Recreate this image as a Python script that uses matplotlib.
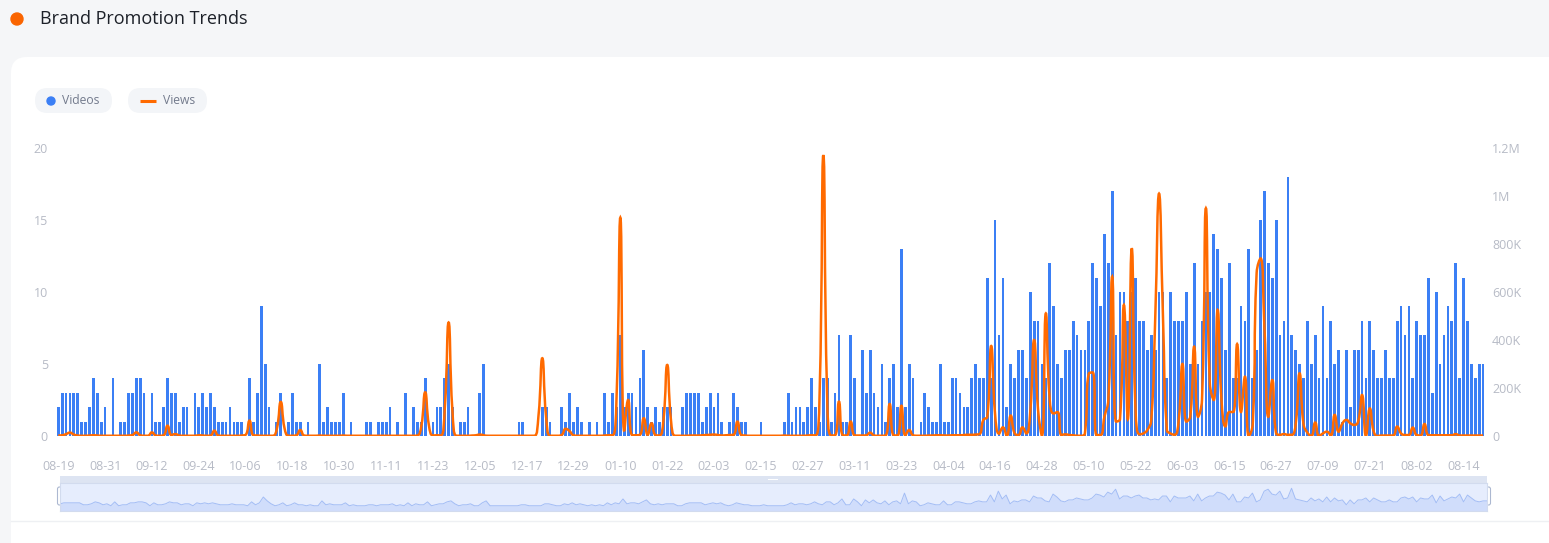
import matplotlib
matplotlib.use('Agg')
import matplotlib.pyplot as plt
from matplotlib.patches import FancyBboxPatch, Circle, Rectangle, PathPatch
from matplotlib.path import Path
import numpy as np
import pandas as pd

plt.rcParams['font.family'] = ['Open Sans', 'DejaVu Sans']

# daily data, 2024-08-19 .. 2025-08-19
start_date = '2024-08-19'
n_days = 366
dates = pd.date_range(start_date, periods=n_days, freq='D')
date_labels = list(dates.strftime('%m-%d'))

videos = [
    2, 3, 3, 3, 3, 3, 1, 1, 2, 4,
    3, 1, 2, 0, 4, 0, 1, 1, 3, 3,
    4, 4, 3, 0, 3, 1, 1, 2, 4, 3,
    3, 1, 2, 2, 0, 3, 2, 3, 2, 3,
    2, 1, 1, 1, 2, 1, 1, 1, 0, 4,
    1, 3, 9, 5, 2, 0, 1, 3, 0, 1,
    3, 1, 1, 0, 1, 0, 0, 5, 1, 2,
    1, 1, 1, 3, 0, 1, 0, 0, 0, 1,
    1, 0, 1, 1, 1, 2, 0, 1, 0, 3,
    0, 2, 1, 1, 4, 0, 1, 2, 2, 4,
    5, 2, 0, 1, 1, 2, 0, 0, 3, 5,
    0, 0, 0, 0, 0, 0, 0, 0, 1, 1,
    0, 0, 0, 0, 2, 2, 1, 0, 0, 2,
    1, 3, 1, 2, 1, 0, 1, 0, 1, 0,
    3, 1, 3, 2, 7, 2, 3, 3, 2, 4,
    6, 2, 1, 2, 1, 2, 2, 2, 0, 0,
    2, 3, 3, 3, 3, 1, 2, 3, 2, 3,
    1, 0, 1, 3, 2, 1, 1, 0, 0, 0,
    1, 0, 0, 0, 0, 0, 1, 3, 1, 2,
    2, 1, 2, 4, 2, 1, 4, 4, 1, 3,
    7, 1, 1, 7, 4, 0, 6, 3, 6, 3,
    2, 5, 1, 4, 5, 2, 13, 2, 5, 4,
    0, 1, 3, 2, 1, 1, 5, 1, 1, 4,
    4, 3, 2, 2, 4, 5, 4, 4, 11, 4,
    15, 7, 11, 2, 5, 4, 6, 6, 4, 10,
    8, 8, 5, 4, 12, 9, 5, 4, 6, 6,
    8, 7, 6, 6, 8, 12, 11, 9, 14, 12,
    17, 7, 10, 10, 8, 10, 11, 8, 8, 6,
    7, 6, 10, 10, 4, 10, 8, 8, 8, 10,
    5, 12, 5, 8, 10, 10, 14, 13, 11, 6,
    12, 4, 4, 9, 8, 13, 4, 6, 15, 17,
    12, 11, 15, 7, 8, 18, 7, 6, 5, 4,
    8, 5, 7, 4, 9, 4, 8, 5, 6, 1,
    6, 2, 6, 6, 8, 4, 8, 6, 4, 4,
    6, 4, 4, 8, 9, 7, 9, 4, 8, 7,
    7, 11, 3, 10, 5, 7, 9, 8, 12, 4,
    11, 8, 5, 4, 5, 5,
]

# views in thousands
views_k = [
    2, 3, 8, 14, 6, 2, 1, 1, 2, 3,
    2, 1, 1, 1, 1, 1, 1, 1, 2, 4,
    15, 3, 1, 1, 15, 2, 1, 3, 43, 4,
    8, 2, 1, 1, 1, 1, 3, 2, 1, 2,
    22, 2, 1, 1, 1, 1, 1, 2, 5, 64,
    3, 2, 1, 1, 1, 1, 30, 142, 30, 1,
    1, 3, 25, 2, 1, 1, 1, 2, 1, 1,
    1, 1, 1, 2, 1, 1, 1, 1, 1, 1,
    1, 1, 1, 1, 1, 1, 1, 1, 1, 1,
    1, 1, 2, 40, 182, 40, 2, 3, 2, 110,
    473, 100, 1, 1, 1, 1, 2, 3, 6, 3,
    1, 1, 1, 1, 1, 1, 1, 1, 1, 1,
    1, 1, 1, 80, 324, 75, 1, 1, 1, 5,
    30, 20, 3, 1, 1, 1, 1, 1, 1, 1,
    2, 3, 3, 150, 910, 20, 150, 4, 3, 5,
    74, 5, 53, 4, 2, 60, 296, 60, 1, 1,
    1, 1, 2, 2, 2, 3, 4, 5, 6, 4,
    2, 3, 4, 5, 60, 4, 2, 1, 1, 1,
    1, 1, 1, 1, 1, 1, 2, 1, 1, 1,
    1, 1, 2, 3, 2, 150, 1170, 150, 2, 3,
    143, 3, 2, 60, 3, 2, 2, 3, 14, 2,
    1, 1, 3, 133, 3, 2, 126, 3, 25, 3,
    1, 1, 1, 2, 2, 3, 3, 2, 2, 3,
    3, 3, 4, 5, 5, 6, 8, 67, 80, 375,
    90, 10, 36, 1, 85, 11, 4, 36, 11, 100,
    400, 110, 1, 511, 150, 94, 100, 4, 7, 4,
    3, 1, 1, 11, 260, 265, 4, 4, 80, 150,
    664, 60, 70, 546, 70, 782, 100, 7, 11, 25,
    67, 480, 1010, 500, 25, 10, 5, 60, 300, 60,
    80, 372, 80, 150, 949, 220, 150, 525, 150, 40,
    100, 100, 383, 100, 247, 0, 50, 680, 740, 450,
    80, 233, 11, 5, 8, 5, 5, 50, 261, 50,
    14, 0, 56, 0, 11, 18, 2, 88, 18, 53,
    67, 53, 46, 60, 171, 0, 115, 18, 0, 2,
    2, 2, 2, 39, 11, 4, 4, 35, 4, 2,
    50, 4, 3, 3, 3, 3, 3, 3, 8, 2,
    2, 2, 2, 2, 2, 2,
]

left_ticks = [0, 5, 10, 15, 20]
right_ticks = [0, 200000, 400000, 600000, 800000, 1000000, 1200000]
right_labels = ['0', '200K', '400K', '600K', '800K', '1M', '1.2M']

blue = '#3b7ff5'
orange = '#ff6a00'
grey_txt = '#b7bbc6'

W, H = 1549, 543
fig = plt.figure(figsize=(W / 100, H / 100), dpi=100)
fig.patch.set_facecolor('#f5f6f8')

# background layer in pixel coords
bg = fig.add_axes([0, 0, 1, 1])
bg.set_xlim(0, W)
bg.set_ylim(H, 0)
bg.axis('off')
bg.add_patch(FancyBboxPatch((11, 57), W + 40, H, boxstyle='round,pad=0,rounding_size=16',
                            fc='white', ec='none'))
bg.plot([11, W], [521, 521], color='#eef0f3', lw=1)

# header
bg.add_patch(Circle((17, 19), 6, color='#fa6400'))
bg.text(40, 19, 'Brand Promotion Trends', va='center', ha='left', fontsize=13, color='#1d2129')

# legend pills
bg.add_patch(FancyBboxPatch((35, 88), 77, 25, boxstyle='round,pad=0,rounding_size=12.5',
                            fc='#f3f5f8', ec='none'))
bg.add_patch(Circle((51, 101), 4, color=blue))
bg.text(62, 101, 'Videos', va='center', ha='left', fontsize=8.7, color='#737a8c')
bg.add_patch(FancyBboxPatch((128, 88), 79, 25, boxstyle='round,pad=0,rounding_size=12.5',
                            fc='#f3f5f8', ec='none'))
bg.plot([140, 156], [101, 101], color=orange, lw=2.2, solid_capstyle='butt')
bg.text(163, 101, 'Views', va='center', ha='left', fontsize=8.7, color='#737a8c')

# main plot
x0, x1, y0, y1 = 56.3, 1485.0, 148, 436
ax = fig.add_axes([x0 / W, 1 - y1 / H, (x1 - x0) / W, (y1 - y0) / H])
ax.patch.set_alpha(0)
x = np.arange(n_days)
ax.bar(x, videos, width=0.7, color=blue, zorder=2)
ax.set_xlim(-0.5, n_days - 0.5)
ax.set_ylim(0, 20)
ax.set_yticks(left_ticks)
ax.set_xticks(x[::12])
ax.set_xticklabels(date_labels[::12])
ax.tick_params(axis='y', length=0, pad=6, labelsize=9, labelcolor=grey_txt)
ax.tick_params(axis='x', length=0, pad=17, labelsize=9, labelcolor=grey_txt)
for s in ax.spines.values():
    s.set_visible(False)

ax2 = ax.twinx()
ax2.set_ylim(0, 1200000)
ax2.set_yticks(right_ticks)
ax2.set_yticklabels(right_labels)
ax2.tick_params(axis='y', length=0, pad=5, labelsize=9, labelcolor=grey_txt)
for s in ax2.spines.values():
    s.set_visible(False)

# smoothed views line, bezier segments in the manner of echarts smooth=0.5
views = np.array(views_k, dtype=float) * 1000
sx = (x1 - x0) / n_days
sy = (y1 - y0) / 1200000.0
px = x * sx
py = views * sy
k = 0.5
verts = [(px[0], py[0])]
codes = [Path.MOVETO]
c0x, c0y = px[0], py[0]
for i in range(1, n_days):
    cx, cy = px[i], py[i]
    prx, pry = px[i - 1], py[i - 1]
    if i + 1 >= n_days:
        c1x, c1y = cx, cy
        n0x, n0y = cx, cy
    else:
        nx, ny = px[i + 1], py[i + 1]
        vx, vy = nx - prx, ny - pry
        lp = np.hypot(cx - prx, cy - pry)
        ln = np.hypot(nx - cx, ny - cy)
        r = ln / (ln + lp)
        n0x = cx + vx * k * r
        n0y = cy + vy * k * r
        n0x = min(max(n0x, min(nx, cx)), max(nx, cx))
        n0y = min(max(n0y, min(ny, cy)), max(ny, cy))
        vx, vy = n0x - cx, n0y - cy
        c1x = cx - vx * lp / ln
        c1y = cy - vy * lp / ln
        c1x = min(max(c1x, min(prx, cx)), max(prx, cx))
        c1y = min(max(c1y, min(pry, cy)), max(pry, cy))
        vx, vy = cx - c1x, cy - c1y
        n0x = cx + vx * ln / lp
        n0y = cy + vy * ln / lp
    verts += [(c0x, c0y), (c1x, c1y), (cx, cy)]
    codes += [Path.CURVE4] * 3
    c0x, c0y = n0x, n0y
verts = np.array(verts)
verts[:, 0] /= sx
verts[:, 1] /= sy
ax2.add_patch(PathPatch(Path(verts, codes), fill=False, ec=orange, lw=1.8, zorder=3))

# data zoom slider
bg.add_patch(Rectangle((60, 476), 1427, 7, fc='#d2dbee', ec='none', alpha=0.75))
bg.add_patch(Rectangle((768, 478.5), 10, 1.2, fc='white', ec='none'))
sl = fig.add_axes([60 / W, 1 - 511 / H, 1427 / W, 28 / H])
sl.set_facecolor('#e6edfd')
sl.set_xlim(0, n_days - 1)
sl.set_ylim(-5.4, 23.4)
sl.fill_between(x, videos, -5.4, color='#8fb0f7', alpha=0.25, lw=0)
sl.plot(x, videos, color='#a3bdf5', lw=0.7)
sl.set_xticks([])
sl.set_yticks([])
for s in sl.spines.values():
    s.set_color('#d2dbee')
    s.set_linewidth(0.8)
for hx in (57.5, 1484.5):
    bg.add_patch(FancyBboxPatch((hx, 487), 6, 18, boxstyle='round,pad=0,rounding_size=2',
                                fc='white', ec='#acb8d1', lw=0.8, zorder=5))

fig.savefig('out.png', dpi=100, facecolor=fig.get_facecolor())
